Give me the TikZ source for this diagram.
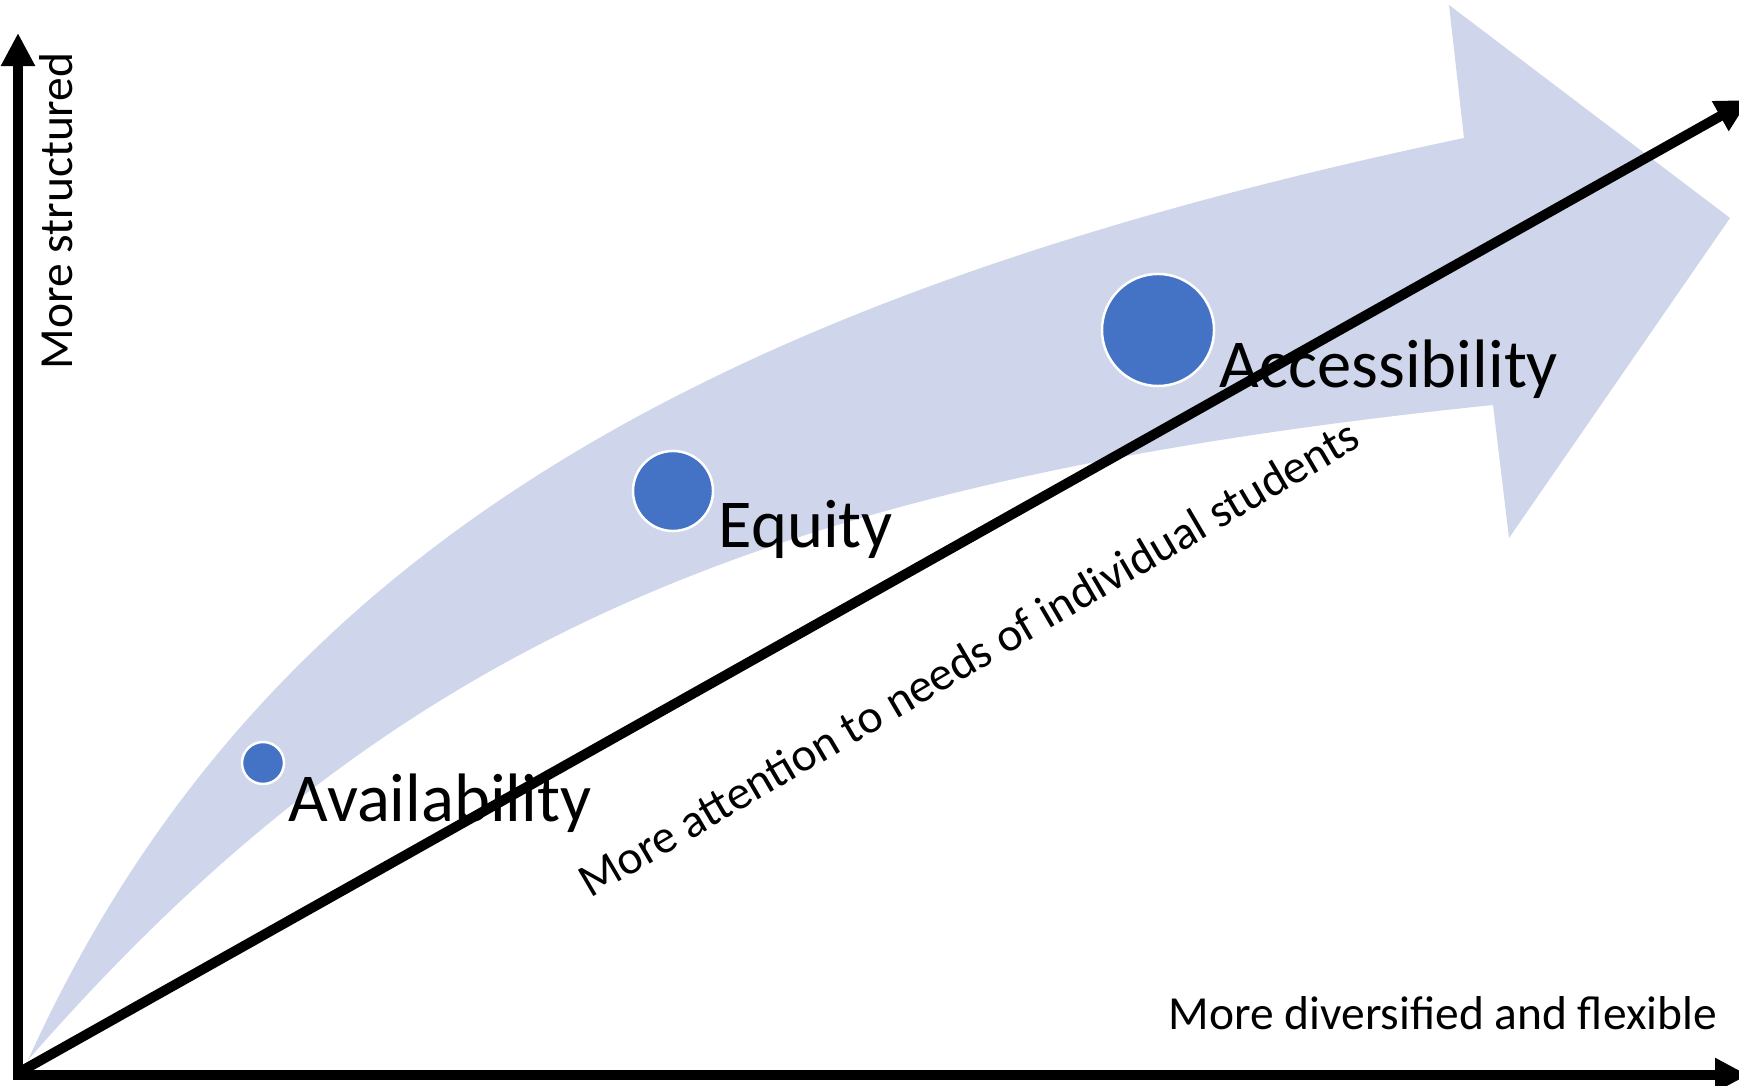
\documentclass[tikz,border=0pt]{standalone}
\usepackage{fontspec}
\setmainfont{Carlito}
\usetikzlibrary{arrows.meta}
\definecolor{bandblue}{HTML}{CFD5EA}
\definecolor{dotblue}{HTML}{4472C4}

\begin{document}
\begin{tikzpicture}[x=0.01cm, y=-0.01cm,
    axis/.style={draw, line width=0.1cm, -{Triangle[width=0.32cm, length=0.33cm]}},
    dot/.style={shape=circle, draw=white, line width=0.025cm, fill=dotblue, inner sep=0pt},
    bigword/.style={font=\fontsize{19.5}{23}\selectfont, inner sep=0pt, anchor=base west},
    axislabel/.style={font=\fontsize{13.5}{16}\selectfont, inner sep=0pt, anchor=base west}]

    \useasboundingbox (0,0) rectangle (1739,1086);
    \clip (0,0) rectangle (1739,1086);

    % wide curved arrow behind everything
    \fill[bandblue] (28,1060) .. controls (255,560) and (694,300) .. (1464,138)
        -- (1449,5) -- (1730,218) -- (1509,538) -- (1493,405)
        .. controls (757,481) and (391,645) .. cycle;

    \coordinate (origin) at (18,1073);
    \coordinate (ybottom) at (18,1080);
    \coordinate (ytop) at (18,33);
    \coordinate (xleft) at (13,1075);
    \coordinate (xright) at (1748,1075);
    \coordinate (diagtip) at (1749,100);

    \draw[axis] (ybottom) -- (ytop);
    \draw[axis] (xleft) -- (xright);
    \draw[axis] (origin) -- (diagtip);

    \node[axislabel, rotate=90] (ylabel) at (72,370) {More structured};
    \node[axislabel] (xlabel) at (1168,1030) {More diversified and flexible};
    \node[axislabel, rotate=30.4] (diaglabel) at (590,899) {More attention to needs of individual students};

    \node[dot, minimum size=0.42cm] (availdot) at (263,763) {};
    \node[dot, minimum size=0.80cm] (equitydot) at (673,491) {};
    \node[dot, minimum size=1.12cm] (accessdot) at (1158,330) {};

    \node[bigword] (avail) at (288,822) {Availability};
    \node[bigword] (equity) at (718,548) {Equity};
    \node[bigword] (access) at (1219,388) {Accessibility};
\end{tikzpicture}
\end{document}
